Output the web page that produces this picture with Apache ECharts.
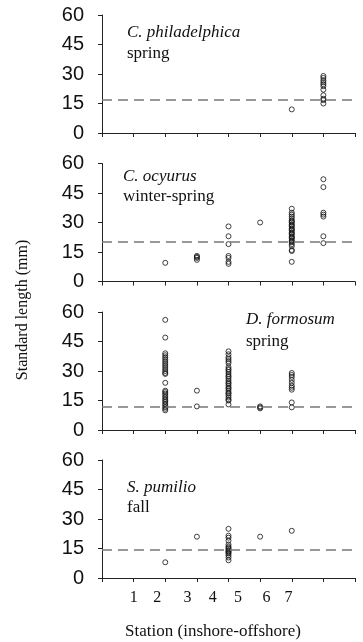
<!DOCTYPE html>
<html><head><meta charset="utf-8">
<script src="https://cdn.jsdelivr.net/npm/echarts@6/dist/echarts.min.js"></script>
<style>html,body{margin:0;padding:0;background:#fff}#c{width:363px;height:642px}</style>
</head><body><div id="c"></div>
<script>
// Station positions along axis and tick labels
var stationLabels = ['1','2','3','4','5','6','7'];
var stationLabelPos = [1, 1.75, 2.7, 3.5, 4.3, 5.2, 5.9];
var yTicks = [0, 15, 30, 45, 60];

var speciesNames = ['C. philadelphica', 'C. ocyurus', 'D. formosum', 'S. pumilio'];
var seasons = ['spring', 'winter-spring', 'spring', 'fall'];
var refLines = [17, 20, 12, 14.5];

// [station, length]
var philadelphica = [
  [6,12],
  [7,29],[7,28],[7,26.8],[7,25.8],[7,24.8],[7,23.8],[7,22],[7,19.2],[7,17.4],[7,16.7],[7,15]
];
var ocyurus = [
  [2,9.5],
  [3,13],[3,12.5],[3,12],[3,11],
  [4,28],[4,23],[4,19],[4,13],[4,12],[4,10],[4,9],
  [5,30],
  [6,37],[6,35],[6,34],[6,33],[6,32],[6,31],[6,30.5],[6,30],[6,29],[6,28.5],[6,28],[6,27],[6,26.5],[6,26],[6,25],[6,24.5],[6,24],[6,23],[6,22.5],[6,22],[6,21],[6,20.5],[6,20],[6,19],[6,18],[6,16],[6,15.5],[6,10],
  [7,52],[7,48],[7,35],[7,34],[7,33],[7,23],[7,19.5]
];
var formosum = [
  [2,56],[2,47],[2,39],[2,38],[2,37],[2,36],[2,35],[2,34],[2,33],[2,32],[2,31],[2,30],[2,29],[2,28.5],[2,24],
  [2,20],[2,19.3],[2,18.5],[2,17.6],[2,16.7],[2,15.8],[2,15],[2,14.2],[2,13.3],[2,12.5],[2,11.6],[2,10.8],[2,10],
  [3,20],[3,12],
  [4,40],[4,38.5],[4,37],[4,36],[4,35],[4,34],[4,32],[4,31],[4,30.5],[4,29.5],[4,28.5],[4,27.5],[4,27],[4,26],[4,25],[4,24],[4,23.5],[4,22.5],[4,21.5],[4,21],[4,20],[4,19],[4,18.5],[4,17.5],[4,16.5],[4,15.5],[4,15],[4,13],
  [5,12],[5,11.5],[5,11],
  [6,29],[6,28],[6,27],[6,25.5],[6,24],[6,22.5],[6,21.5],[6,20.5],[6,14],[6,11.5]
];
var pumilio = [
  [2,8],
  [3,21],
  [4,25],[4,21.5],[4,20.5],[4,19],[4,17],[4,16],[4,15.3],[4,14.7],[4,14],[4,13.5],[4,13],[4,12.4],[4,11.5],[4,10.4],[4,9],
  [5,21],
  [6,24]
];
var allData = [philadelphica, ocyurus, formosum, pumilio];

var tops = [15, 163.5, 312, 460];
var labelPos = [[127,33,54],[123,177,197],[246,320,342],[127,488,508]];
var grids = [], xAxes = [], yAxes = [], series = [], graphics = [];
for (var i = 0; i < 4; i++) {
  grids.push({left: 102, right: 8, top: tops[i], height: 118});
  xAxes.push({
    type: 'value', gridIndex: i, min: 0, max: 8, interval: 1,
    axisLine: {lineStyle: {color: '#222', width: 1}},
    axisTick: {show: true, length: 4, lineStyle: {color: '#222'}},
    splitLine: {show: false},
    axisLabel: i === 3 ? {
      show: true, customValues: stationLabelPos, margin: 12,
      fontFamily: 'Liberation Serif', fontSize: 16, color: '#111',
      formatter: function (v) { var k = stationLabelPos.indexOf(v); return k >= 0 ? stationLabels[k] : ''; }
    } : {show: false}
  });
  yAxes.push({
    type: 'value', gridIndex: i, min: 0, max: 60, interval: 15,
    axisLine: {show: true, lineStyle: {color: '#222', width: 1}},
    axisTick: {show: true, length: 4, lineStyle: {color: '#222'}},
    splitLine: {show: false},
    axisLabel: {fontFamily: 'Liberation Sans', fontSize: 20, color: '#111', margin: 18,
      formatter: function (v) { return yTicks.indexOf(v) >= 0 ? String(v) : ''; }}
  });
  series.push({
    type: 'scatter', xAxisIndex: i, yAxisIndex: i, data: allData[i],
    symbol: 'circle', symbolSize: 5,
    itemStyle: {color: 'rgba(255,255,255,0)', borderColor: '#111', borderWidth: 1},
    markLine: {
      silent: true, symbol: 'none', label: {show: false},
      lineStyle: {type: [10, 6], color: '#777', width: 1.6},
      data: [{yAxis: refLines[i]}]
    },
    z: 3
  });
  graphics.push({type: 'text', x: labelPos[i][0], y: labelPos[i][1],
    style: {text: speciesNames[i], font: 'italic 17px "Liberation Serif"', fill: '#111', verticalAlign: 'middle'}});
  graphics.push({type: 'text', x: labelPos[i][0], y: labelPos[i][2],
    style: {text: seasons[i], font: '17px "Liberation Serif"', fill: '#111', verticalAlign: 'middle'}});
}
graphics.push({type: 'text', x: 213, y: 632,
  style: {text: 'Station (inshore-offshore)', font: '17px "Liberation Serif"', fill: '#111', align: 'center', verticalAlign: 'middle'}});
graphics.push({type: 'text', x: 23, y: 310, rotation: Math.PI / 2,
  style: {text: 'Standard length (mm)', font: '16px "Liberation Serif"', fill: '#111', align: 'center', verticalAlign: 'middle'}});

var chart = echarts.init(document.getElementById('c'), null, {renderer: 'canvas'});
chart.setOption({
  animation: false,
  grid: grids, xAxis: xAxes, yAxis: yAxes, series: series, graphic: graphics
});
</script></body></html>
